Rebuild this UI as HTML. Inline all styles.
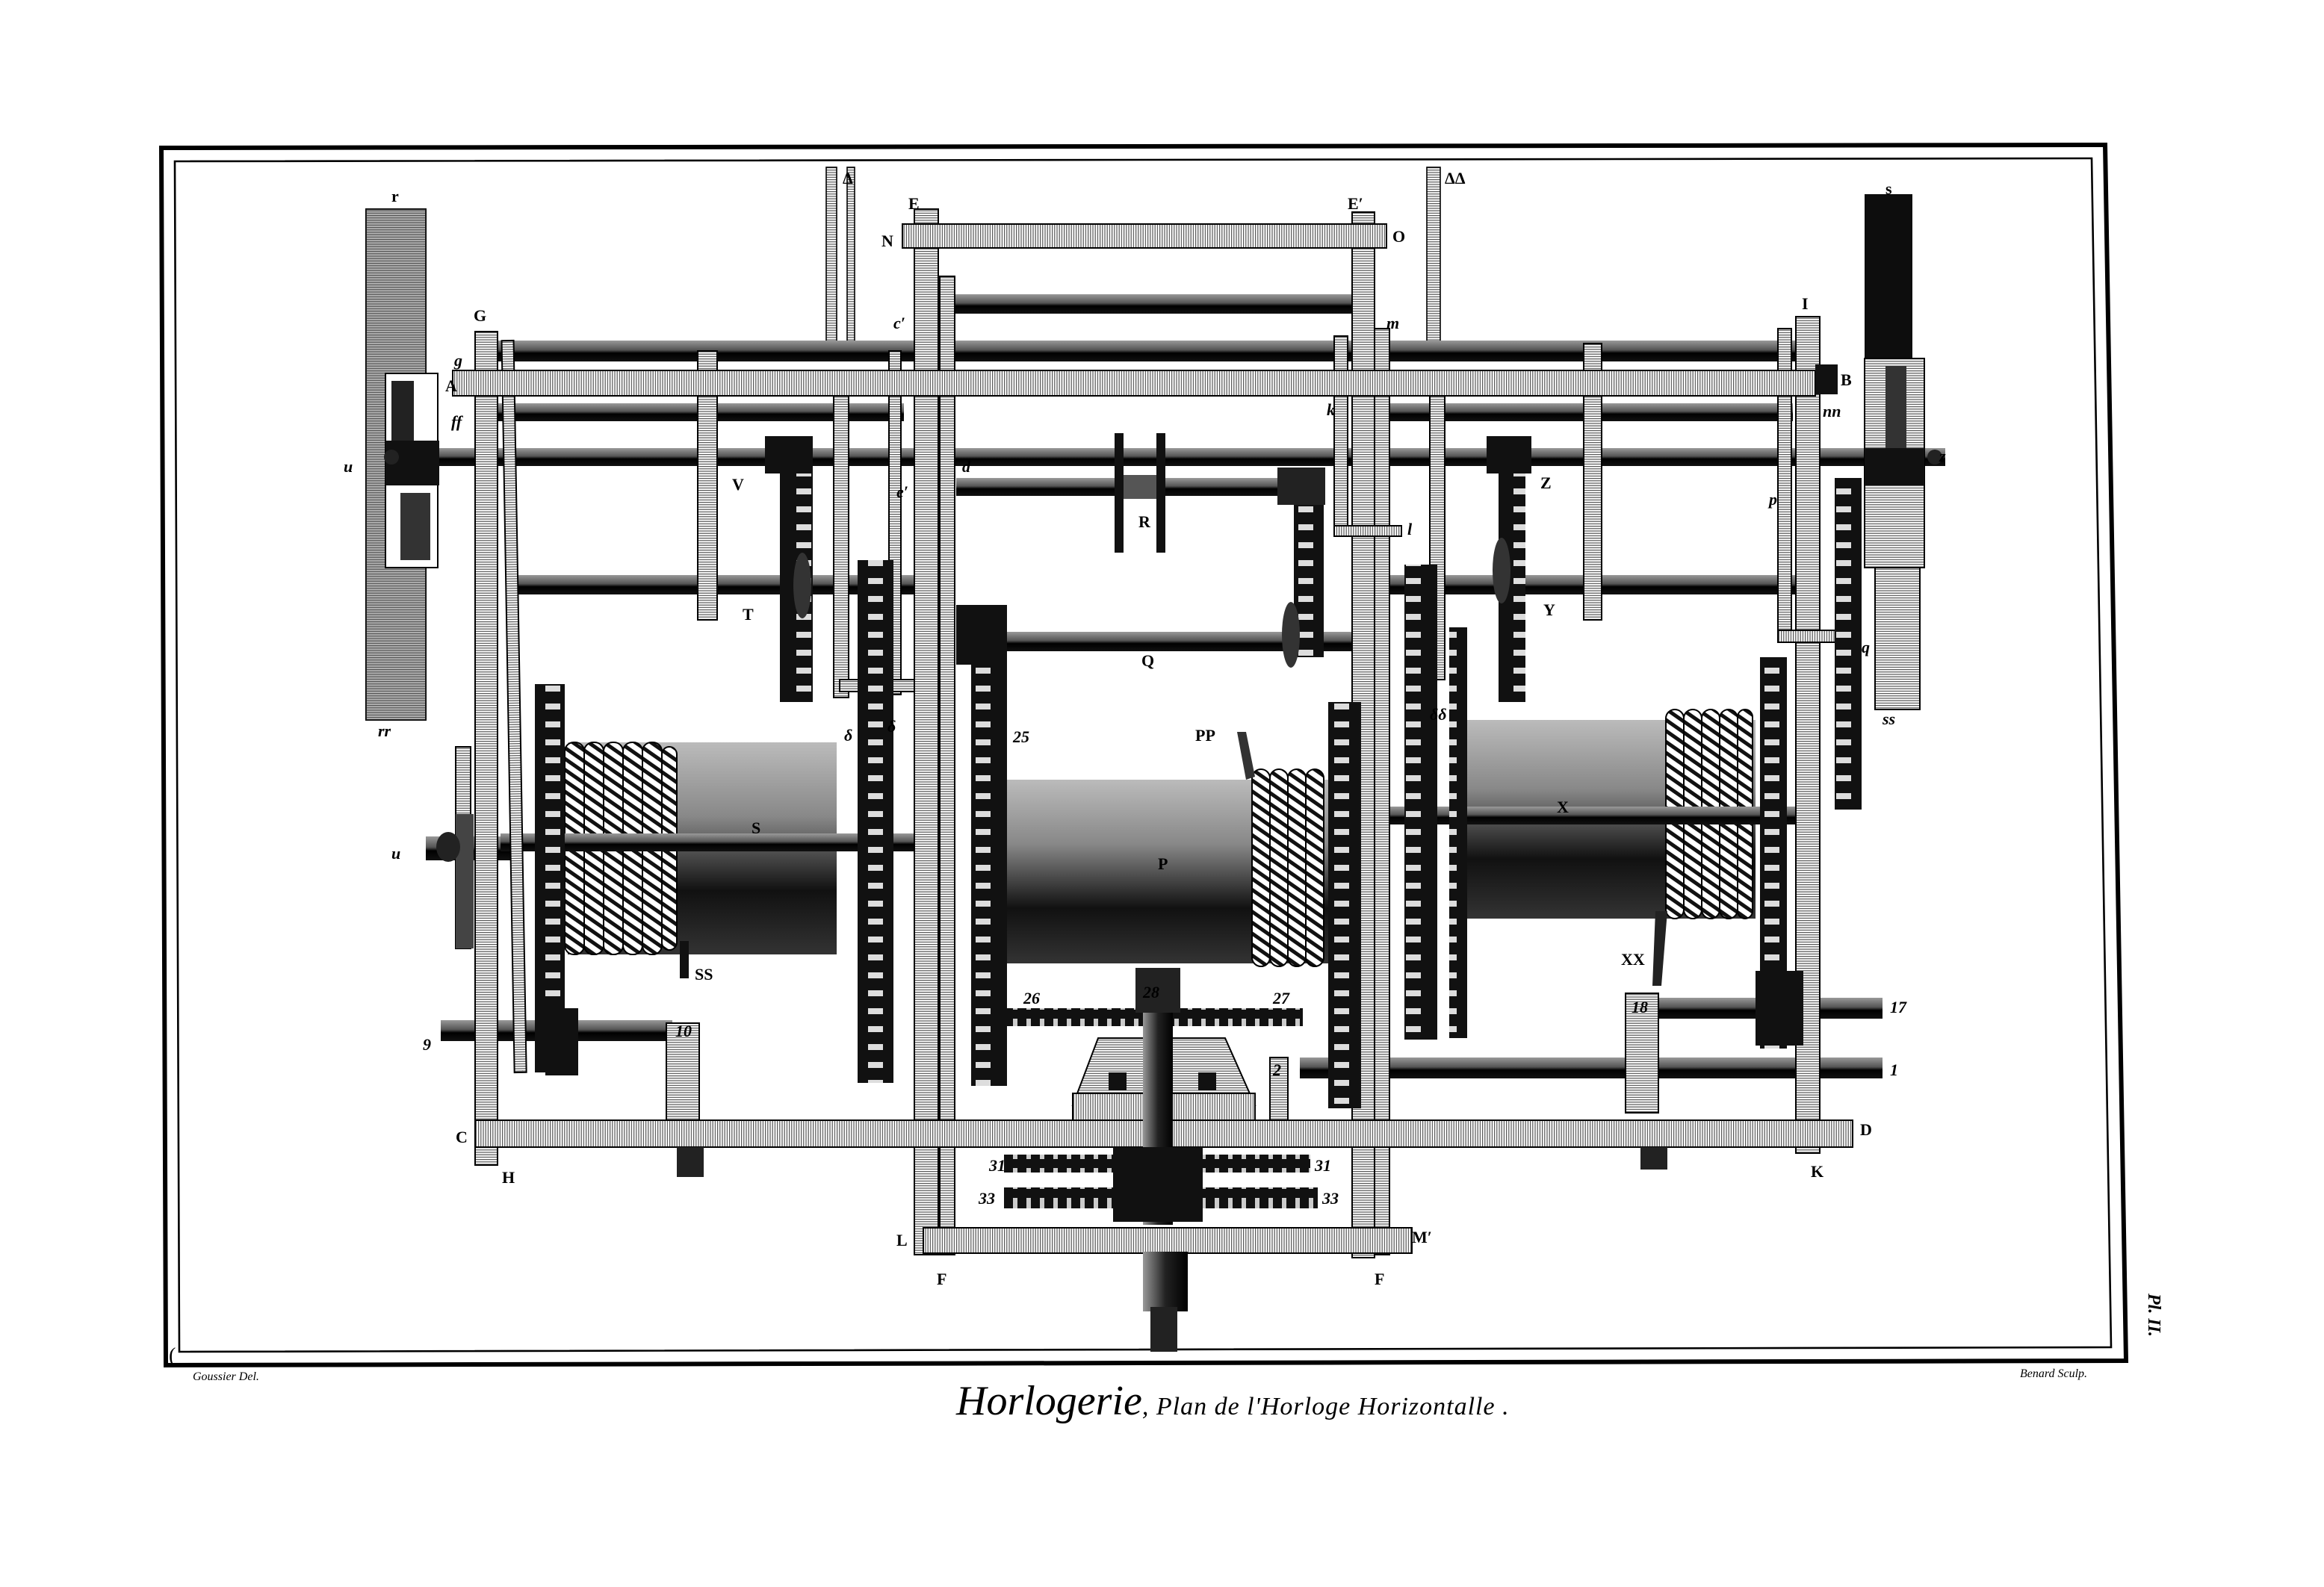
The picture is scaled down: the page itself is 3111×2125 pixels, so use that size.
<!DOCTYPE html>
<html><head><meta charset="utf-8"><style>
html,body{margin:0;padding:0;background:#fff;}
svg{display:block}
text{font-family:"Liberation Serif",serif;fill:#000}
</style></head><body>
<svg width="3111" height="2125" viewBox="0 0 1555.5 1062.5" xmlns="http://www.w3.org/2000/svg">
<defs>
<pattern id="hh" width="4" height="1.6" patternUnits="userSpaceOnUse"><rect width="4" height="1.6" fill="#fff"/><rect width="4" height="0.6" fill="#555"/></pattern>
<pattern id="hv" width="1.6" height="4" patternUnits="userSpaceOnUse"><rect width="1.6" height="4" fill="#fff"/><rect width="0.6" height="4" fill="#555"/></pattern>
<pattern id="gv" width="24" height="12" patternUnits="userSpaceOnUse"><rect width="24" height="12" fill="#111"/><rect x="5" y="3" width="10" height="4" fill="#ddd"/></pattern>
<pattern id="gh" width="9" height="20" patternUnits="userSpaceOnUse"><rect width="9" height="20" fill="#111"/><rect x="3" y="2" width="3" height="14" fill="#ccc"/></pattern>
<pattern id="coil" width="6" height="6" patternUnits="userSpaceOnUse" patternTransform="rotate(35)"><rect width="6" height="6" fill="#fff"/><rect width="6" height="2.5" fill="#111"/></pattern>
<linearGradient id="drum" x1="0" y1="0" x2="0" y2="1"><stop offset="0" stop-color="#bbb"/><stop offset="0.35" stop-color="#888"/><stop offset="0.7" stop-color="#111"/><stop offset="1" stop-color="#333"/></linearGradient>
<linearGradient id="shaft" x1="0" y1="0" x2="0" y2="1"><stop offset="0" stop-color="#999"/><stop offset="0.45" stop-color="#555"/><stop offset="0.6" stop-color="#000"/><stop offset="1" stop-color="#111"/></linearGradient>
<linearGradient id="vshaft" x1="0" y1="0" x2="1" y2="0"><stop offset="0" stop-color="#999"/><stop offset="0.5" stop-color="#222"/><stop offset="1" stop-color="#000"/></linearGradient>
</defs>

<!-- border -->
<polygon points="108,99 1409,97 1423,911 111,914" fill="none" stroke="#000" stroke-width="3"/>
<polygon points="117,108 1400,106 1413,902 120,905" fill="none" stroke="#000" stroke-width="1.3"/>

<!-- delta rods -->
<rect x="553" y="112" width="7" height="120" fill="url(#hh)" stroke="#000" stroke-width="0.8"/>
<rect x="567" y="112" width="5" height="120" fill="url(#hh)" stroke="#000" stroke-width="0.8"/>
<rect x="955" y="112" width="9" height="125" fill="url(#hh)" stroke="#000" stroke-width="0.8"/>

<!-- drums -->
<rect x="380" y="497" width="180" height="142" fill="url(#drum)"/>
<rect x="665" y="522" width="225" height="123" fill="url(#drum)"/>
<rect x="980" y="482" width="195" height="133" fill="url(#drum)"/>
<g fill="url(#coil)" stroke="#000" stroke-width="1">
<rect x="378" y="497" width="13" height="142" rx="6"/><rect x="391" y="497" width="13" height="142" rx="6"/><rect x="404" y="497" width="13" height="142" rx="6"/><rect x="417" y="497" width="13" height="142" rx="6"/><rect x="430" y="497" width="13" height="142" rx="6"/><rect x="443" y="500" width="10" height="136" rx="5"/>
<rect x="838" y="515" width="12" height="132" rx="6"/><rect x="850" y="515" width="12" height="132" rx="6"/><rect x="862" y="515" width="12" height="132" rx="6"/><rect x="874" y="515" width="12" height="132" rx="6"/>
<rect x="1115" y="475" width="12" height="140" rx="6"/><rect x="1127" y="475" width="12" height="140" rx="6"/><rect x="1139" y="475" width="12" height="140" rx="6"/><rect x="1151" y="475" width="12" height="140" rx="6"/><rect x="1163" y="475" width="10" height="140" rx="5"/>
</g>
<path d="M828 490 L834 490 L840 520 L834 522 Z" fill="#333"/>
<rect x="455" y="630" width="6" height="25" fill="#111"/>
<path d="M1108 610 L1116 610 L1112 660 L1106 660Z" fill="#222"/>

<!-- shafts -->
<g fill="url(#shaft)">
<rect x="630" y="197" width="285" height="13"/>
<rect x="330" y="228" width="875" height="14"/>
<rect x="330" y="270" width="275" height="12"/><rect x="930" y="270" width="270" height="12"/>
<rect x="262" y="300" width="1040" height="12"/>
<rect x="640" y="320" width="245" height="12"/>
<rect x="340" y="385" width="290" height="13"/><rect x="930" y="385" width="285" height="13"/>
<rect x="640" y="423" width="270" height="13"/>
<rect x="285" y="560" width="60" height="16"/>
<rect x="295" y="683" width="155" height="14"/><rect x="1110" y="668" width="150" height="14"/>
<rect x="870" y="708" width="390" height="14"/>
<rect x="335" y="558" width="300" height="12"/><rect x="930" y="540" width="280" height="12"/>
</g>

<!-- frame bars -->
<g fill="url(#hh)" stroke="#000" stroke-width="1">
<rect x="318" y="222" width="15" height="558"/>
<rect x="612" y="140" width="16" height="700"/>
<rect x="905" y="142" width="15" height="700"/>
<rect x="1202" y="212" width="16" height="560"/>
<rect x="629" y="185" width="10" height="655"/>
<rect x="920" y="220" width="10" height="620"/>
<rect x="1190" y="220" width="9" height="205"/>
<rect x="340" y="228" width="8" height="490" transform="rotate(-1 344 470)"/>
<rect x="467" y="235" width="13" height="180"/>
<rect x="1060" y="230" width="12" height="185"/>
<rect x="558" y="262" width="10" height="205"/>
<rect x="595" y="235" width="8" height="230"/>
<rect x="893" y="225" width="9" height="130"/>
<rect x="957" y="265" width="10" height="190"/>
<rect x="305" y="500" width="10" height="135"/>
<rect x="446" y="685" width="22" height="65"/>
<rect x="1088" y="665" width="22" height="80"/>
<rect x="562" y="455" width="50" height="8"/>
</g>
<g fill="url(#hv)" stroke="#000" stroke-width="1">
<rect x="604" y="150" width="324" height="16"/>
<rect x="303" y="248" width="912" height="17"/>
<rect x="318" y="750" width="922" height="18"/>
<rect x="618" y="822" width="327" height="17"/>
<rect x="1190" y="422" width="50" height="8"/>
<rect x="893" y="352" width="45" height="7"/>
</g>
<rect x="1215" y="244" width="15" height="20" fill="#111"/>

<!-- gears -->
<g fill="url(#gv)">
<rect x="358" y="458" width="20" height="260"/>
<rect x="522" y="295" width="22" height="175"/>
<rect x="574" y="375" width="24" height="350"/>
<rect x="650" y="405" width="24" height="322"/>
<rect x="866" y="315" width="20" height="125"/>
<rect x="889" y="470" width="22" height="272"/>
<rect x="940" y="378" width="22" height="318"/>
<rect x="1003" y="295" width="18" height="175"/>
<rect x="1178" y="440" width="18" height="262"/>
<rect x="1228" y="320" width="18" height="222"/>
<rect x="970" y="420" width="12" height="275"/>
</g>
<rect x="512" y="292" width="32" height="25" fill="#111"/>
<rect x="995" y="292" width="30" height="25" fill="#111"/>
<rect x="855" y="313" width="32" height="25" fill="#222"/>
<rect x="640" y="405" width="30" height="40" fill="#111"/>
<rect x="1175" y="650" width="32" height="50" fill="#111"/>
<rect x="365" y="675" width="22" height="45" fill="#111"/>
<rect x="305" y="545" width="12" height="90" fill="#444"/>
<ellipse cx="300" cy="567" rx="8" ry="10" fill="#222"/>
<path d="M746 290 L752 290 L752 370 L746 370Z M774 290 L780 290 L780 370 L774 370Z" fill="#111"/>
<rect x="752" y="318" width="22" height="16" fill="#555"/>
<ellipse cx="864" cy="425" rx="6" ry="22" fill="#333"/>
<ellipse cx="537" cy="392" rx="6" ry="22" fill="#333"/>
<ellipse cx="1005" cy="382" rx="6" ry="22" fill="#333"/>

<!-- fly vanes -->
<rect x="245" y="140" width="40" height="342" fill="url(#hh)" stroke="#000" stroke-width="1"/>
<rect x="245" y="140" width="40" height="342" fill="#555" opacity="0.45"/>
<rect x="258" y="250" width="35" height="130" fill="#fff" stroke="#000"/>
<rect x="262" y="255" width="15" height="55" fill="#222"/><rect x="268" y="330" width="20" height="45" fill="#333"/>
<rect x="258" y="295" width="36" height="30" fill="#111"/>
<rect x="1248" y="130" width="32" height="115" fill="#0d0d0d"/>
<rect x="1248" y="240" width="40" height="140" fill="url(#hh)" stroke="#000"/>
<rect x="1262" y="245" width="14" height="70" fill="#333"/>
<rect x="1248" y="300" width="40" height="25" fill="#111"/>
<rect x="1255" y="380" width="30" height="95" fill="url(#hh)" stroke="#000"/>
<circle cx="1295" cy="306" r="5" fill="#222"/><circle cx="262" cy="306" r="5" fill="#222"/>

<!-- bottom center mechanism -->
<path d="M735 695 L820 695 L840 740 L718 740 Z" fill="url(#hh)" stroke="#000"/>
<rect x="718" y="732" width="122" height="18" fill="url(#hv)" stroke="#000"/>
<rect x="742" y="718" width="12" height="12" fill="#111"/><rect x="802" y="718" width="12" height="12" fill="#111"/>
<rect x="850" y="708" width="12" height="42" fill="url(#hh)" stroke="#000"/>
<rect x="672" y="675" width="200" height="12" fill="url(#gh)"/>
<rect x="765" y="650" width="20" height="170" fill="url(#vshaft)"/>
<rect x="760" y="648" width="30" height="30" fill="#222"/>
<rect x="672" y="773" width="205" height="12" fill="url(#gh)"/>
<rect x="672" y="795" width="210" height="14" fill="url(#gh)"/>
<rect x="745" y="768" width="60" height="50" fill="#111"/>
<rect x="765" y="838" width="30" height="40" fill="url(#vshaft)"/>
<rect x="770" y="875" width="18" height="30" fill="#222"/>
<rect x="453" y="768" width="18" height="20" fill="#222"/>
<rect x="1098" y="768" width="18" height="15" fill="#222"/>

<!-- labels -->
<g font-size="11" font-weight="bold">
<text x="262" y="135">r</text><text x="253" y="493" font-style="italic">rr</text>
<text x="1262" y="130">s</text><text x="1260" y="485" font-style="italic">ss</text>
<text x="317" y="215">G</text><text x="298" y="262">A</text><text x="304" y="245" font-style="italic">g</text>
<text x="302" y="286" font-style="italic">ff</text><text x="230" y="316" font-style="italic">u</text>
<text x="262" y="575" font-style="italic">u</text><text x="283" y="703" font-style="italic">9</text>
<text x="305" y="765">C</text><text x="336" y="792">H</text>
<text x="564" y="123">Δ</text><text x="967" y="123">ΔΔ</text>
<text x="608" y="140">E</text><text x="902" y="140">E′</text>
<text x="590" y="165">N</text><text x="932" y="162">O</text>
<text x="598" y="220" font-style="italic">c′</text><text x="644" y="316" font-style="italic">d</text>
<text x="600" y="333" font-style="italic">e′</text>
<text x="928" y="220" font-style="italic">m</text><text x="942" y="358" font-style="italic">l</text>
<text x="1206" y="207">I</text><text x="1232" y="258">B</text><text x="1220" y="279" font-style="italic">nn</text>
<text x="1298" y="309" font-style="italic">z</text><text x="1246" y="437" font-style="italic">q</text>
<text x="1184" y="338" font-style="italic">p</text><text x="888" y="278" font-style="italic">k</text>
<text x="490" y="328">V</text><text x="497" y="415">T</text>
<text x="762" y="353">R</text><text x="764" y="446">Q</text>
<text x="1031" y="327">Z</text><text x="1033" y="412">Y</text>
<text x="503" y="558">S</text><text x="465" y="656">SS</text>
<text x="775" y="582">P</text><text x="800" y="496">PP</text>
<text x="1042" y="544">X</text><text x="1085" y="646">XX</text>
<text x="565" y="496" font-style="italic">δ</text><text x="594" y="490" font-style="italic">δ</text>
<text x="957" y="482" font-style="italic">δδ</text>
<text x="678" y="497" font-style="italic">25</text><text x="685" y="672" font-style="italic">26</text>
<text x="852" y="672" font-style="italic">27</text><text x="765" y="668" font-style="italic">28</text>
<text x="662" y="784" font-style="italic">31</text><text x="880" y="784" font-style="italic">31</text>
<text x="655" y="806" font-style="italic">33</text><text x="885" y="806" font-style="italic">33</text>
<text x="600" y="834">L</text><text x="945" y="832">M′</text>
<text x="627" y="860">F</text><text x="920" y="860">F</text>
<text x="1245" y="760">D</text><text x="1212" y="788">K</text>
<text x="1265" y="678" font-style="italic">17</text><text x="1265" y="720" font-style="italic">1</text>
<text x="1092" y="678" font-style="italic">18</text><text x="452" y="694" font-style="italic">10</text>
<text x="852" y="720" font-style="italic">2</text>
</g>

<!-- captions -->
<text x="129" y="924" font-size="8" font-style="italic">Goussier Del.</text>
<text x="1352" y="922" font-size="8" font-style="italic">Benard Sculp.</text>
<text x="1438" y="866" font-size="12" font-weight="bold" font-style="italic" transform="rotate(90 1438 866)">Pl. II.</text>
<text x="113" y="912" font-size="14">(</text>
<text x="640" y="947" font-size="28" font-style="italic">Horlogerie<tspan font-size="17" letter-spacing="0.5">, Plan de l'Horloge Horizontalle .</tspan></text>
</svg>
</body></html>
